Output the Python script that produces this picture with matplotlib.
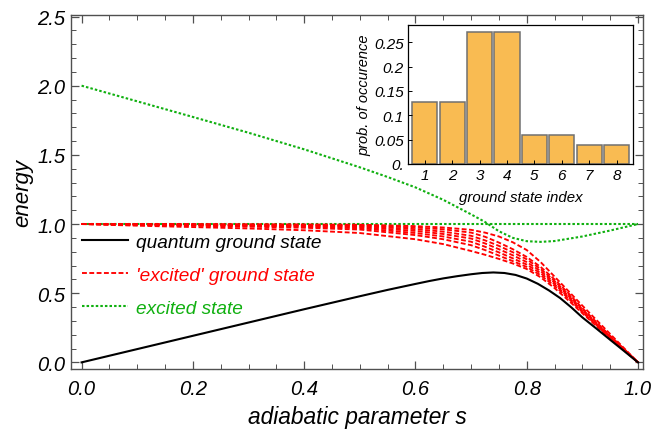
import matplotlib
matplotlib.use("Agg")
import matplotlib.pyplot as plt
import numpy as np

plt.rcParams['font.family'] = ['Liberation Sans', 'DejaVu Sans']
plt.rcParams['font.style'] = 'italic'

# ---------------- data ----------------
s_ground = [0.0, 0.1, 0.2, 0.3, 0.4, 0.5, 0.55, 0.6, 0.625, 0.65, 0.675, 0.7, 0.72, 0.74,
            0.76, 0.78, 0.8, 0.82, 0.84, 0.86, 0.88, 0.9, 0.925, 0.95, 0.975, 1.0]
e_ground = [0.0, 0.096, 0.192, 0.288, 0.384, 0.478, 0.524, 0.567, 0.588, 0.607, 0.623,
            0.637, 0.646, 0.65, 0.646, 0.632, 0.606, 0.568, 0.52, 0.465, 0.398, 0.325,
            0.245, 0.163, 0.082, 0.0]

s_red = [0.0, 0.1, 0.2, 0.3, 0.4, 0.5, 0.6, 0.65, 0.7, 0.725, 0.75, 0.775, 0.8,
         0.825, 0.85, 0.875, 0.9, 0.95, 1.0]
e_red = [
    [1.0, 1.0, 0.999, 0.998, 0.997, 0.995, 0.985, 0.975, 0.958, 0.938, 0.91, 0.868, 0.812, 0.725, 0.62, 0.515, 0.41, 0.205, 0.0],
    [1.0, 0.999, 0.998, 0.996, 0.994, 0.99, 0.975, 0.962, 0.938, 0.908, 0.866, 0.818, 0.762, 0.69, 0.6, 0.5, 0.392, 0.192, 0.0],
    [1.0, 0.998, 0.996, 0.993, 0.99, 0.985, 0.963, 0.945, 0.915, 0.882, 0.842, 0.796, 0.745, 0.675, 0.588, 0.49, 0.384, 0.188, 0.0],
    [1.0, 0.997, 0.994, 0.99, 0.986, 0.978, 0.95, 0.928, 0.895, 0.86, 0.818, 0.774, 0.725, 0.66, 0.576, 0.48, 0.377, 0.184, 0.0],
    [1.0, 0.996, 0.991, 0.986, 0.98, 0.97, 0.935, 0.91, 0.872, 0.836, 0.795, 0.752, 0.707, 0.645, 0.565, 0.471, 0.37, 0.181, 0.0],
    [1.0, 0.994, 0.988, 0.981, 0.973, 0.96, 0.92, 0.89, 0.847, 0.812, 0.772, 0.732, 0.69, 0.63, 0.553, 0.462, 0.363, 0.177, 0.0],
    [1.0, 0.988, 0.978, 0.968, 0.955, 0.935, 0.89, 0.855, 0.805, 0.778, 0.748, 0.715, 0.675, 0.615, 0.537, 0.448, 0.355, 0.172, 0.0],
]

s_exc_upper = [0.0, 0.1, 0.2, 0.3, 0.4, 0.5, 0.55, 0.6, 0.65, 0.7, 0.725, 0.75, 0.775,
               0.8, 0.825, 0.85, 0.9, 0.95, 1.0]
e_exc_upper = [2.0, 1.887, 1.774, 1.66, 1.54, 1.41, 1.34, 1.265, 1.175, 1.07, 1.015,
               0.948, 0.9, 0.876, 0.871, 0.877, 0.91, 0.953, 1.0]
s_exc_lower = [0.0, 1.0]
e_exc_lower = [1.0, 1.0]

gs_index = [1, 2, 3, 4, 5, 6, 7, 8]
gs_prob = [0.127, 0.127, 0.272, 0.272, 0.060, 0.060, 0.040, 0.040]

# ---------------- figure ----------------
fig = plt.figure(figsize=(6.55, 4.31), dpi=100)
ax = fig.add_axes([0.1084, 0.1415, 0.8733, 0.8214])

RED = '#ff0000'
GREEN = '#10b010'
FRAME = '#505050'
DOT = (0, (1.2, 1.0))
DASH = (0, (2.6, 1.3))

ax.plot(s_exc_lower, e_exc_lower, color=GREEN, lw=1.5, linestyle=DOT)
ax.plot(s_exc_upper, e_exc_upper, color=GREEN, lw=1.5, linestyle=DOT,
        label='excited state')
for i, e in enumerate(e_red):
    ax.plot(s_red, e, color=RED, lw=1.35, linestyle=DASH,
            label="'excited' ground state" if i == 0 else None)
ax.plot(s_ground, e_ground, color='black', lw=1.5, label='quantum ground state')

ax.set_xlim(-0.019, 1.009)
ax.set_ylim(-0.048, 2.511)
ax.set_xticks([0.0, 0.2, 0.4, 0.6, 0.8, 1.0])
ax.set_xticklabels(['0.0', '0.2', '0.4', '0.6', '0.8', '1.0'])
ax.set_yticks([0.0, 0.5, 1.0, 1.5, 2.0, 2.5])
ax.set_yticklabels(['0.0', '0.5', '1.0', '1.5', '2.0', '2.5'])
ax.set_xticks(np.arange(0, 1.001, 0.05), minor=True)
ax.set_yticks(np.arange(0, 2.501, 0.1), minor=True)
ax.tick_params(which='both', direction='in', top=True, right=True, color=FRAME,
               labelsize=14.5)
ax.tick_params(which='major', length=6, width=0.9)
ax.tick_params(which='minor', length=3.5, width=0.7)
ax.tick_params(axis='x', pad=7)
ax.tick_params(axis='y', pad=4)
for sp in ax.spines.values():
    sp.set_color(FRAME)
    sp.set_linewidth(1.0)

ax.set_xlabel('adiabatic parameter s', fontsize=16.4, labelpad=5)
ax.set_ylabel('energy', fontsize=16, labelpad=3)

handles, labels = ax.get_legend_handles_labels()
order = [labels.index('quantum ground state'), labels.index("'excited' ground state"),
         labels.index('excited state')]
leg = ax.legend([handles[k] for k in order], [labels[k] for k in order],
                loc='center left', bbox_to_anchor=(0.019, 0.2655), frameon=False,
                fontsize=13.7, handlelength=2.4, handletextpad=0.47,
                labelspacing=0.83, borderaxespad=0.0, borderpad=0.0)
for txt, col in zip(leg.get_texts(), ['black', RED, GREEN]):
    txt.set_color(col)

# ---------------- inset ----------------
ins = fig.add_axes([0.6229, 0.6172, 0.3435, 0.3225])
ins.bar(gs_index, gs_prob, width=0.92, color='#f9bb52', edgecolor='#707070',
        linewidth=1.1)
ins.set_xlim(0.39, 8.6)
ins.set_ylim(0, 0.2856)
ins.set_xticks(gs_index)
ins.set_xticklabels([str(i) for i in gs_index])
ins.set_yticks([0.0, 0.05, 0.1, 0.15, 0.2, 0.25])
ins.set_yticklabels(['0.', '0.05', '0.1', '0.15', '0.2', '0.25'])
ins.tick_params(direction='in', length=3, width=0.7, labelsize=11, pad=3)
for sp in ins.spines.values():
    sp.set_color('black')
    sp.set_linewidth(0.9)
ins.set_xlabel('ground state index', fontsize=10.8, labelpad=6)
ins.set_ylabel('prob. of occurence', fontsize=10.5, labelpad=2)

fig.savefig('out.png', dpi=100)
